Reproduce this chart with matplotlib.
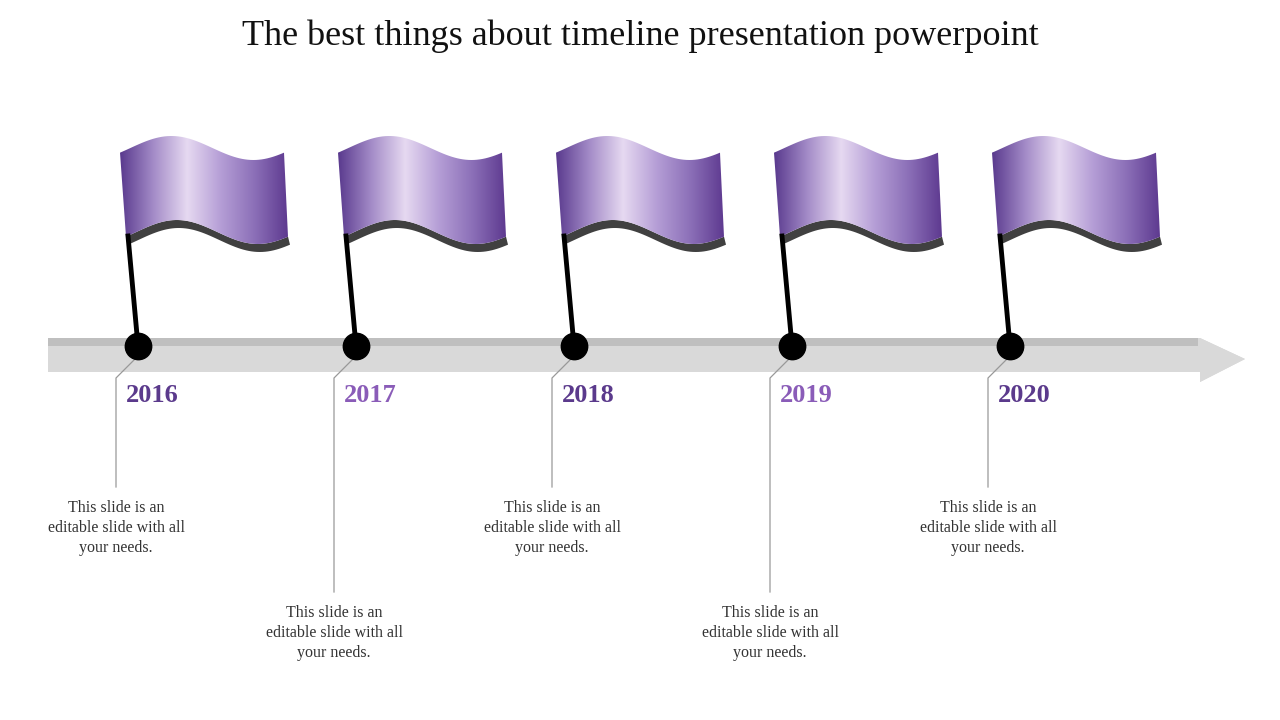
import numpy as np
import matplotlib
matplotlib.use("Agg")
import matplotlib.pyplot as plt
from matplotlib.path import Path
from matplotlib.patches import PathPatch, Polygon
from matplotlib.colors import LinearSegmentedColormap

title = "The best things about timeline presentation powerpoint"
years = [2016, 2017, 2018, 2019, 2020]
year_colors = ["#5b3a8c", "#8a5cb8", "#5b3a8c", "#8a5cb8", "#5b3a8c"]
desc = "This slide is an\neditable slide with all\nyour needs."
text_low = [False, True, False, True, False]

fig = plt.figure(figsize=(12.8, 7.2), dpi=100)
ax = fig.add_axes([0, 0, 1, 1])
ax.set_xlim(0, 1280); ax.set_ylim(720, 0); ax.axis("off")
serif = "Liberation Serif"

ax.text(640, 36, title, ha="center", va="center", fontsize=26, family=serif, color="#111111")

# arrow
ax.add_patch(Polygon([[48, 338], [1200, 338], [1200, 338], [1245, 359], [1200, 382],
                      [1200, 372], [48, 372]], closed=True, fc="#d9d9d9", ec="none"))
ax.add_patch(Polygon([[1200, 338], [1245, 359], [1200, 382]], closed=True, fc="#d9d9d9", ec="none"))
ax.add_patch(Polygon([[48, 338], [1198, 338], [1198, 346], [48, 346]], closed=True, fc="#bfbfbf", ec="none"))

cmap = LinearSegmentedColormap.from_list("f", ["#5a3a8e", "#a48cc8", "#e6d9f1", "#b59ed6", "#8c70b8", "#5e3a90"])

def wave(x0, x1, y0, n=60):
    t = np.linspace(0, 1, n)
    xs = x0 + (x1 - x0) * t
    ys = y0 + 12 * np.sin(2 * np.pi * t - 0.4) * -1
    return xs, ys

for i, yr in enumerate(years):
    cx = 138 + (yr - years[0]) * 218
    cy = 346
    fx0, fx1 = cx - 18, cx + 146
    # top and bottom edges
    tx, ty = wave(fx0, fx1, 148)
    bx, by = wave(fx0 + 6, fx1 + 4, 232)
    # shadow
    sx, sy = wave(fx0 + 8, fx1 + 6, 240)
    sh = np.vstack([np.c_[bx, by], np.c_[sx[::-1], sy[::-1]]])
    ax.add_patch(Polygon(sh, closed=True, fc="#404040", ec="none", zorder=2))
    verts = np.vstack([np.c_[tx, ty], np.c_[bx[::-1], by[::-1]]])
    poly = Polygon(verts, closed=True, fc="none", ec="none", zorder=3)
    ax.add_patch(poly)
    grad = np.linspace(0, 1, 256)[None, :]
    im = ax.imshow(grad, cmap=cmap, extent=[fx0, fx1 + 4, 250, 120], aspect="auto", zorder=3)
    im.set_clip_path(poly)
    # pole
    ax.plot([fx0 + 8, cx], [236, cy], color="black", lw=3.5, zorder=4)
    ax.plot(cx, cy, "o", ms=19, color="black", zorder=5)
    # year
    ax.text(cx - 12, 396, str(yr), ha="left", va="center", fontsize=19, weight="bold",
            family=serif, color=year_colors[i])
    # connector
    lx = cx - 22
    yend = 592 if text_low[i] else 487
    ax.plot([cx, lx, lx], [356, 378, yend], color="#999999", lw=0.9, zorder=1)
    ty0 = 633 if text_low[i] else 528
    ax.text(lx, ty0, desc, ha="center", va="center", fontsize=11.5, family=serif,
            color="#333333", linespacing=1.3)

fig.savefig("out.png", dpi=100)
